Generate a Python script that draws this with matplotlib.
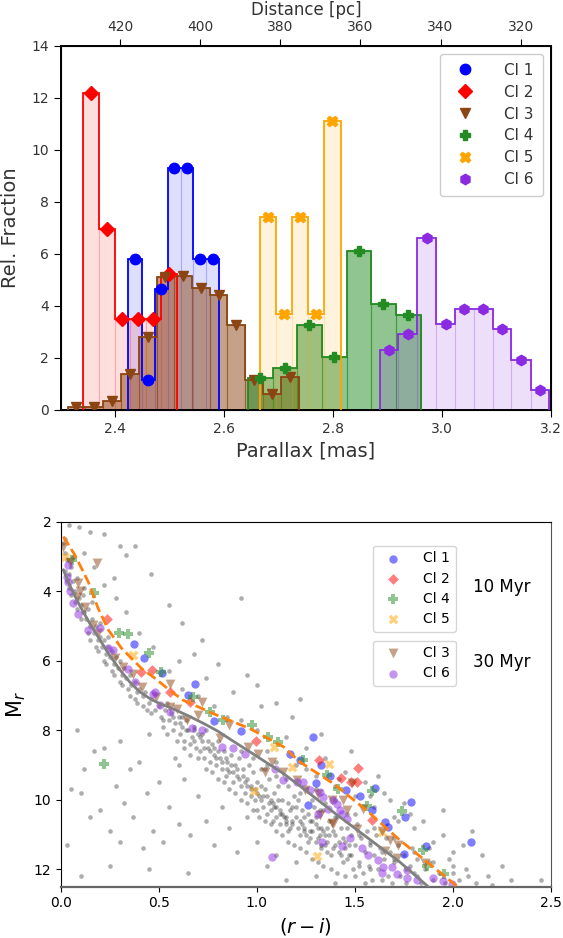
import numpy as np
import matplotlib.pyplot as plt

# ---------------- top panel: parallax histograms ----------------
cl_labels = ["Cl 1", "Cl 2", "Cl 3", "Cl 4", "Cl 5", "Cl 6"]
cl_colors = ["blue", "red", "saddlebrown", "forestgreen", "orange", "blueviolet"]
cl_markers = ["o", "D", "v", "P", "X", "h"]
fill_alpha = [0.13, 0.13, 0.5, 0.5, 0.13, 0.15]

cl1_edges = [2.424, 2.448, 2.472, 2.496, 2.520, 2.543, 2.567, 2.591]
cl1_frac = [5.8, 1.16, 4.65, 9.3, 9.3, 5.8, 5.8]
cl2_edges = [2.341, 2.370, 2.399, 2.427, 2.456, 2.484, 2.513]
cl2_frac = [12.2, 6.98, 3.49, 3.49, 3.49, 5.23]
cl3_edges = [2.312, 2.345, 2.377, 2.410, 2.443, 2.476, 2.508, 2.541, 2.574,
             2.606, 2.639, 2.672, 2.704, 2.737]
cl3_frac = [0.1, 0.1, 0.35, 1.38, 2.8, 5.13, 5.15, 4.68, 4.43, 3.28, 1.15, 0.6, 1.28]
cl4_edges = [2.643, 2.689, 2.734, 2.779, 2.825, 2.870, 2.915, 2.961]
cl4_frac = [1.22, 1.63, 3.26, 2.04, 6.12, 4.08, 3.67]
cl5_edges = [2.665, 2.695, 2.725, 2.754, 2.784, 2.814]
cl5_frac = [7.42, 3.71, 7.42, 3.71, 11.13]
cl6_edges = [2.886, 2.920, 2.955, 2.990, 3.024, 3.059, 3.094, 3.128, 3.163, 3.197]
cl6_frac = [2.32, 2.91, 6.63, 3.3, 3.88, 3.88, 3.12, 1.94, 0.76]

hist_edges = [cl1_edges, cl2_edges, cl3_edges, cl4_edges, cl5_edges, cl6_edges]
hist_frac = [cl1_frac, cl2_frac, cl3_frac, cl4_frac, cl5_frac, cl6_frac]
dist_ticks = [420, 400, 380, 360, 340, 320]

# ---------------- bottom panel: CMD ----------------
iso10_ri = [0.012, 0.071, 0.139, 0.19, 0.242, 0.31, 0.412, 0.48, 0.565, 0.624,
            0.795, 0.965, 1.135, 1.22, 1.39, 1.56, 1.73, 1.9, 2.025]
iso10_mr = [2.42, 2.95, 3.72, 4.49, 5.11, 5.64, 6.22, 6.5, 6.89, 7.13,
            7.56, 7.95, 8.47, 8.91, 9.53, 10.3, 11.16, 11.93, 12.5]
iso30_ri = [0.012, 0.055, 0.1, 0.15, 0.2, 0.25, 0.3, 0.35, 0.4, 0.45, 0.5, 0.565,
            0.65, 0.735, 0.8, 0.871, 0.99, 1.135, 1.22, 1.39, 1.56, 1.73, 1.875]
iso30_mr = [3.38, 3.95, 4.45, 4.95, 5.4, 5.85, 6.25, 6.6, 6.88, 7.07, 7.22, 7.36,
            7.58, 7.82, 8.02, 8.28, 8.71, 9.24, 9.6, 10.35, 11.07, 11.79, 12.5]

cl1_pts = [(0.374, 5.52), (0.425, 5.93), (0.514, 6.36), (0.684, 6.65), (0.647, 6.99),
           (0.781, 7.73), (0.919, 8.01), (1.285, 8.19), (1.169, 8.67), (1.22, 8.85),
           (1.302, 9.51), (1.373, 9.32), (1.262, 10.16), (1.455, 9.72), (1.526, 9.9),
           (1.603, 9.66), (1.787, 10.07), (1.756, 10.49), (1.654, 10.64), (1.671, 10.78),
           (1.863, 11.34), (1.752, 11.57), (2.093, 11.21), (1.33, 9.0), (1.586, 10.28)]
cl2_pts = [(0.236, 4.8), (0.408, 6.31), (0.463, 6.27), (0.556, 6.89), (0.658, 7.18),
           (0.995, 8.3), (1.319, 8.84), (1.429, 9.37), (1.515, 9.07), (1.509, 9.5),
           (1.48, 9.5), (1.586, 10.59)]
cl3_pts = [(0.012, 2.71), (0.046, 3.14), (0.182, 3.19), (0.088, 3.77), (0.097, 4.0),
           (0.08, 4.15), (0.123, 4.44), (0.165, 4.97), (0.19, 5.21), (0.276, 5.93),
           (0.318, 6.17), (0.369, 6.39), (0.412, 6.75), (0.556, 6.65), (0.718, 7.18),
           (0.859, 7.85), (0.556, 7.34), (0.591, 7.37), (0.642, 7.71), (0.701, 7.56),
           (0.485, 7.03), (0.812, 8.23), (0.956, 8.47), (1.007, 8.67), (1.076, 8.91),
           (1.041, 9.2), (1.135, 9.2), (1.203, 9.43), (1.246, 9.72), (1.313, 9.82),
           (1.382, 10.01), (1.458, 10.3), (1.382, 10.68), (1.484, 9.51), (1.441, 9.99),
           (1.543, 10.25), (1.509, 10.83), (1.637, 10.9), (1.679, 11.16), (1.722, 11.31),
           (1.654, 11.47), (1.713, 11.66), (1.858, 11.82), (1.39, 10.7), (1.322, 10.44)]
cl4_pts = [(0.055, 3.1), (0.17, 4.03), (0.298, 5.19), (0.344, 5.23), (0.451, 5.76),
           (0.51, 6.33), (0.675, 7.03), (0.761, 7.47), (0.825, 7.69), (0.973, 7.85),
           (1.058, 8.2), (1.109, 8.33), (1.237, 8.86), (1.356, 9.29), (1.415, 9.68),
           (1.586, 9.74), (1.739, 10.32), (1.56, 10.18), (1.846, 11.45), (1.867, 11.91),
           (1.955, 12.14), (0.221, 8.97)]
cl5_pts = [(0.02, 3.0), (0.366, 5.83), (0.987, 9.75), (1.087, 8.47), (1.178, 9.05),
           (1.37, 8.97), (1.637, 10.92), (1.305, 11.63)]
cl6_pts = [(0.037, 3.24), (0.029, 3.58), (0.037, 3.72), (0.046, 4.0), (0.063, 4.34),
           (0.085, 4.66), (0.139, 5.11), (0.199, 5.06), (0.242, 5.64), (0.267, 5.69),
           (0.344, 6.22), (0.378, 6.6), (0.48, 6.89), (0.471, 6.94), (0.505, 7.27),
           (0.556, 7.47), (0.67, 7.92), (0.718, 7.99), (0.82, 8.47), (0.88, 8.52),
           (0.939, 8.67), (1.092, 9.1), (1.135, 9.43), (1.203, 9.48), (1.271, 9.72),
           (1.339, 9.92), (1.407, 10.11), (1.313, 10.4), (1.433, 10.4), (1.237, 9.48),
           (1.322, 9.77), (1.39, 10.01), (1.365, 10.25), (1.424, 10.3), (1.458, 10.54),
           (1.331, 11.21), (1.433, 11.34), (1.475, 11.11), (1.535, 11.4), (1.569, 11.6),
           (1.62, 11.74), (1.645, 11.93), (1.688, 11.93), (1.637, 12.12), (1.717, 12.14),
           (1.768, 12.01), (1.768, 12.24), (1.816, 12.3), (1.901, 12.25), (1.952, 12.34),
           (1.994, 12.41), (1.075, 11.64)]

field_pts = [
    # tight upper ridge
    (0.01, 2.6), (0.02, 2.9), (0.03, 3.1), (0.02, 3.4), (0.04, 3.5), (0.05, 3.3), (0.06, 3.7),
    (0.04, 3.9), (0.07, 4.0), (0.08, 3.6), (0.09, 4.2), (0.1, 4.4), (0.08, 4.5), (0.11, 4.1),
    (0.12, 4.6), (0.13, 4.8), (0.14, 4.5), (0.15, 5.0), (0.16, 4.8), (0.17, 5.2), (0.18, 5.0),
    (0.19, 5.4), (0.2, 5.3), (0.21, 5.6), (0.22, 5.4), (0.23, 5.8), (0.24, 5.6), (0.25, 5.9),
    (0.26, 5.7), (0.27, 6.1), (0.28, 5.9), (0.29, 6.2), (0.3, 6.0), (0.31, 6.4), (0.32, 6.2),
    (0.33, 6.5), (0.35, 6.4), (0.36, 6.7), (0.38, 6.6), (0.39, 6.9), (0.4, 6.8), (0.42, 7.0),
    (0.43, 6.9), (0.45, 7.2), (0.46, 7.1), (0.48, 7.4), (0.5, 7.3), (0.02, 2.5), (0.06, 3.0),
    (0.12, 3.9), (0.16, 4.3), (0.2, 4.9), (0.24, 5.3), (0.03, 3.7), (0.05, 4.1), (0.1, 4.8),
    (0.14, 5.2), (0.18, 5.6), (0.22, 6.0), (0.26, 6.3), (0.3, 6.6), (0.34, 6.8), (0.38, 7.1),
    (0.42, 7.3), (0.46, 7.5), (0.07, 4.3), (0.11, 4.6), (0.15, 5.4), (0.19, 5.7), (0.23, 6.1),
    (0.27, 6.4), (0.31, 6.7), (0.35, 7.0), (0.39, 7.2), (0.44, 7.4),
    # lower main band
    (0.51, 7.6), (0.53, 7.4), (0.52, 7.9), (0.55, 7.7), (0.54, 7.2), (0.57, 8.0), (0.56, 7.5),
    (0.58, 7.8), (0.6, 7.6), (0.61, 8.1), (0.62, 7.9), (0.63, 8.3), (0.64, 7.7), (0.65, 8.0),
    (0.66, 8.4), (0.67, 8.2), (0.68, 7.9), (0.69, 8.5), (0.7, 8.1), (0.71, 8.6), (0.72, 8.3),
    (0.73, 8.8), (0.74, 8.0), (0.75, 8.5), (0.76, 8.9), (0.77, 8.4), (0.78, 8.7), (0.79, 9.0),
    (0.8, 8.3), (0.81, 8.8), (0.82, 9.1), (0.83, 8.6), (0.84, 9.3), (0.85, 8.9), (0.86, 9.2),
    (0.87, 8.7), (0.88, 9.5), (0.89, 9.0), (0.9, 9.3), (0.91, 8.8), (0.92, 9.6), (0.93, 9.1),
    (0.94, 9.8), (0.95, 9.4), (0.96, 9.0), (0.97, 9.7), (0.98, 9.2), (0.99, 10.0), (1.0, 9.5),
    (1.01, 9.9), (1.02, 9.1), (1.03, 10.2), (1.04, 9.7), (1.05, 10.4), (1.06, 9.4), (1.07, 10.0),
    (1.08, 10.6), (1.09, 9.8), (1.0, 10.3), (1.05, 9.0), (1.1, 10.2), (1.11, 9.6), (1.12, 10.7),
    (1.13, 10.0), (1.14, 10.5), (1.15, 9.4), (1.16, 10.9), (1.17, 10.3), (1.18, 10.7), (1.19, 9.9),
    (1.12, 10.4), (1.16, 10.1), (1.2, 10.5), (1.21, 10.0), (1.22, 11.0), (1.23, 10.3), (1.24, 10.8),
    (1.25, 9.7), (1.26, 11.2), (1.27, 10.6), (1.28, 10.9), (1.29, 10.2), (1.22, 10.6), (1.26, 10.4),
    (1.3, 10.7), (1.31, 11.1), (1.32, 10.3), (1.33, 11.4), (1.34, 10.9), (1.35, 10.1), (1.36, 11.2),
    (1.37, 10.6), (1.38, 11.6), (1.39, 10.9), (1.31, 10.8), (1.35, 11.0), (1.4, 11.0), (1.41, 10.5),
    (1.42, 11.5), (1.43, 10.8), (1.44, 11.8), (1.45, 11.2), (1.46, 10.4), (1.47, 11.6), (1.48, 11.0),
    (1.49, 12.0), (1.5, 11.3), (1.51, 10.7), (1.52, 11.8), (1.53, 11.1), (1.54, 12.1), (1.55, 11.5),
    (1.56, 10.9), (1.57, 11.9), (1.58, 11.3), (1.59, 12.3), (1.6, 11.6), (1.61, 11.0), (1.62, 12.0),
    (1.63, 11.4), (1.64, 12.3), (1.65, 11.7), (1.66, 11.1), (1.67, 12.2), (1.68, 11.5), (1.69, 12.4),
    (1.7, 11.8), (1.72, 11.3), (1.73, 12.2), (1.75, 11.6), (1.76, 12.4), (1.78, 11.9), (1.79, 11.4),
    (1.8, 12.1), (1.82, 11.7), (1.84, 12.4), (1.86, 12.0), (1.88, 11.8), (1.9, 12.3), (1.93, 12.1),
    (1.96, 12.4), (2.0, 11.9), (2.03, 12.3), (2.07, 12.0), (2.12, 12.4), (2.18, 12.2),
    (0.97, 9.9), (1.02, 10.0), (1.07, 10.3), (1.1, 10.5), (1.15, 10.6), (1.18, 10.2), (1.23, 10.7),
    (1.27, 10.9), (1.3, 10.5), (1.33, 10.8), (1.37, 11.0), (1.4, 11.3), (1.44, 11.1), (1.47, 11.3),
    (0.62, 7.6), (0.68, 8.0), (0.72, 8.1), (0.78, 8.5), (0.84, 8.8), (0.9, 9.1), (0.95, 9.6),
    (0.52, 7.7), (0.54, 8.1), (0.57, 7.6), (0.59, 8.3), (0.61, 7.8), (0.63, 8.5), (0.64, 8.0),
    (0.66, 8.7), (0.68, 8.3), (0.7, 8.8), (0.71, 8.2), (0.73, 8.5), (0.74, 9.1), (0.76, 8.6),
    (0.77, 9.2), (0.79, 8.8), (0.8, 9.4), (0.82, 8.9), (0.83, 9.5), (0.85, 9.1), (0.86, 9.7),
    (0.88, 9.2), (0.89, 9.8), (0.91, 9.4), (0.92, 10.0), (0.94, 9.5), (0.95, 10.1), (0.97, 9.6),
    (0.98, 10.3), (1.0, 9.8), (1.01, 10.5), (1.03, 9.9), (1.04, 10.6), (1.06, 10.1), (1.07, 10.7),
    (1.09, 10.2), (1.1, 10.9), (1.12, 10.3), (1.13, 11.0), (1.15, 10.5), (1.16, 11.2), (1.18, 10.6),
    (1.19, 11.3), (1.21, 10.8), (1.22, 11.4), (1.24, 10.9), (1.25, 11.5), (1.27, 11.1), (1.28, 11.7),
    (1.3, 11.2), (1.31, 11.8), (1.33, 11.3), (1.34, 11.9), (1.36, 11.5), (1.38, 12.0), (1.39, 11.4),
    (1.41, 12.1), (1.43, 11.6), (1.45, 12.2), (1.46, 11.7), (1.5, 12.2), (1.52, 11.9), (1.55, 12.4),
    (1.58, 12.0), (1.05, 9.9), (1.08, 10.1), (1.13, 10.4), (1.17, 10.8), (1.2, 10.2), (1.24, 10.5),
    (1.28, 10.6), (1.32, 11.0), (1.36, 10.8), (1.42, 11.2), (1.45, 11.4), (1.48, 11.6), (1.02, 9.6),
    (0.99, 9.7), (1.11, 10.0), (1.25, 11.0), (1.35, 11.3), (1.15, 10.7), (0.93, 9.3), (0.87, 9.0),
    (0.8, 8.6), (0.75, 8.3),
    # between and around the cluster sequences
    (0.92, 8.6), (0.98, 8.8), (1.04, 9.1), (1.1, 9.3), (1.16, 9.6), (1.22, 9.8), (1.28, 10.0),
    (1.34, 10.3), (1.4, 10.5), (1.46, 10.8), (1.52, 11.0), (1.58, 11.2), (1.64, 11.5), (1.7, 11.7),
    (1.76, 12.0), (1.82, 12.2), (1.3, 9.7), (1.4, 10.0), (1.5, 10.4), (1.6, 10.8), (1.7, 11.1),
    (1.8, 11.5), (1.9, 11.8), (2.0, 12.1), (1.25, 9.1), (1.42, 9.4), (1.58, 9.9), (1.72, 10.6),
    (1.88, 11.4), (1.98, 11.7), (2.08, 12.2), (1.78, 10.4), (1.68, 10.0),
    (0.55, 6.3), (0.62, 6.8), (0.7, 7.0), (0.78, 7.3), (0.85, 7.6), (0.92, 7.7), (1.0, 8.0),
    (1.05, 8.6), (1.1, 8.9), (1.15, 8.2), (1.2, 9.0), (1.25, 8.5), (1.3, 9.3), (1.35, 8.8),
    (1.4, 9.6), (1.45, 9.2), (1.5, 9.9), (1.55, 9.5), (1.6, 10.2), (1.65, 9.8), (1.7, 10.5),
    (1.75, 10.1), (1.8, 10.8), (1.85, 10.6), (1.9, 11.2), (1.95, 11.0), (2.0, 11.5), (2.05, 11.3),
    (1.62, 9.3), (1.48, 8.6), (1.33, 8.1), (1.18, 7.6), (1.02, 7.3), (0.88, 6.9), (0.74, 6.5),
    (0.6, 6.0), (0.47, 5.6), (0.4, 5.2), (0.33, 4.6), (0.28, 4.2), (0.22, 3.8), (0.17, 3.3),
    (0.12, 2.9),
    # sparse outliers
    (0.04, 2.1), (0.09, 2.15), (0.15, 2.3), (0.22, 2.35), (0.3, 2.7), (0.38, 2.7), (0.33, 2.95),
    (0.46, 3.5), (0.27, 3.6), (0.55, 4.4), (0.62, 4.9), (0.72, 5.4), (0.92, 4.2), (0.8, 6.1),
    (1.0, 6.7), (1.22, 7.1), (0.95, 6.4), (1.1, 7.2), (0.68, 5.8),
    (0.03, 11.3), (0.05, 9.7), (0.1, 9.8), (0.12, 9.1), (0.15, 10.5), (0.17, 8.6), (0.2, 10.3),
    (0.25, 10.9), (0.28, 9.6), (0.3, 11.2), (0.32, 10.1), (0.35, 9.1), (0.37, 10.5), (0.4, 8.9),
    (0.42, 11.4), (0.44, 9.8), (0.47, 10.9), (0.5, 9.5), (0.52, 11.2), (0.55, 10.2), (0.58, 8.8),
    (0.6, 10.7), (0.63, 9.4), (0.66, 11.0), (0.7, 9.9), (0.74, 10.6), (0.78, 11.3), (0.82, 10.2),
    (0.86, 10.8), (0.9, 11.5), (0.95, 10.5), (0.1, 12.2), (0.25, 11.9), (0.45, 12.0), (0.65, 12.1),
    (0.22, 8.5), (0.08, 8.0), (0.3, 8.3), (0.45, 8.1), (0.6, 9.0),
    (1.0, 11.2), (1.1, 11.6), (1.2, 11.8), (1.3, 12.2), (1.15, 12.3), (1.4, 12.4), (1.05, 11.9),
    (2.15, 11.6), (2.25, 11.9), (2.3, 12.3), (2.45, 12.3), (2.2, 12.45), (2.1, 10.9), (1.95, 10.3),
]

cmd_groups = [
    ("Cl 1", cl1_pts, "blue", "o"),
    ("Cl 2", cl2_pts, "red", "D"),
    ("Cl 4", cl4_pts, "forestgreen", "P"),
    ("Cl 5", cl5_pts, "orange", "X"),
    ("Cl 3", cl3_pts, "saddlebrown", "v"),
    ("Cl 6", cl6_pts, "blueviolet", "o"),
]

fig = plt.figure(figsize=(5.63, 9.38), dpi=100)
txt = "#333333"

# ---------- top panel ----------
ax = fig.add_axes([0.1083, 0.5629, 0.8698, 0.3881])
handles = []
for i in range(6):
    e = np.array(hist_edges[i])
    h = np.array(hist_frac[i])
    c = cl_colors[i]
    ax.bar(e[:-1], h, width=np.diff(e), align="edge", color=c, alpha=fill_alpha[i],
           edgecolor=c, linewidth=0.8, zorder=1 + i * 0.1)
for i in range(6):
    e = np.array(hist_edges[i])
    h = np.array(hist_frac[i])
    c = cl_colors[i]
    ax.stairs(h, e, color=c, lw=1.3, baseline=0, zorder=3)
    centers = 0.5 * (e[:-1] + e[1:])
    ms = 7 if cl_markers[i] == "D" else 7.5
    ln, = ax.plot(centers, h, ls="none", marker=cl_markers[i], color=c, ms=ms,
                  zorder=4, label=cl_labels[i])
    handles.append(ln)

ax.set_xlim(2.3, 3.2)
ax.set_ylim(0, 14)
ax.set_xticks([2.4, 2.6, 2.8, 3.0, 3.2])
ax.set_xticklabels(["2.4", "2.6", "2.8", "3.0", "3.2"])
ax.set_yticks(range(0, 15, 2))
ax.tick_params(direction="out", length=5, labelsize=10, labelcolor=txt)
ax.set_xlabel("Parallax [mas]", fontsize=14, color=txt, labelpad=4)
ax.set_ylabel("Rel. Fraction", fontsize=14, color=txt, labelpad=8)
for s in ax.spines.values():
    s.set_linewidth(1.4)
ax.legend(handles=handles, loc="upper right", fontsize=11, handletextpad=1.6,
          labelspacing=0.45, borderpad=0.6, framealpha=1, labelcolor=txt)

ax2 = ax.twiny()
ax2.set_xlim(1000 / 2.3, 1000 / 3.2)
ax2.set_xticks(dist_ticks)
ax2.tick_params(direction="out", length=5, labelsize=10, labelcolor=txt)
ax2.set_xlabel("Distance [pc]", fontsize=12, color=txt, labelpad=4)

# ---------- bottom panel ----------
bx = fig.add_axes([0.1083, 0.0547, 0.8698, 0.3888])
fx = [p[0] for p in field_pts]
fy = [p[1] for p in field_pts]
bx.scatter(fx, fy, s=11, color="k", alpha=0.32, lw=0, zorder=1)

sc = {}
for name, pts, c, m in cmd_groups:
    xs = [p[0] for p in pts]
    ys = [p[1] for p in pts]
    size = {"o": 36, "D": 30, "v": 50, "P": 60, "X": 50}[m]
    sc[name] = bx.scatter(xs, ys, s=size, color=c, marker=m, alpha=0.5, lw=0,
                          zorder=2, label=name)

bx.plot(iso10_ri, iso10_mr, color="#ff7f0e", ls="--", lw=2, zorder=3)
bx.plot(iso30_ri, iso30_mr, color="gray", ls="-", lw=2, zorder=3)

bx.set_xlim(0, 2.5)
bx.set_ylim(12.5, 2)
bx.set_xticks([0.0, 0.5, 1.0, 1.5, 2.0, 2.5])
bx.set_yticks([2, 4, 6, 8, 10, 12])
bx.tick_params(labelsize=10)
bx.set_xlabel("$(r-i)$", fontsize=14)
bx.set_ylabel("M$_r$", fontsize=15)
bx.spines["bottom"].set_color("#666666")
bx.spines["bottom"].set_linewidth(1.6)
bx.spines["right"].set_color("#555555")

leg1 = bx.legend(handles=[sc["Cl 1"], sc["Cl 2"], sc["Cl 4"], sc["Cl 5"]],
                 loc="upper left", bbox_to_anchor=(0.638, 0.935), fontsize=10,
                 handletextpad=1.2, borderaxespad=0, labelspacing=0.45)
bx.add_artist(leg1)
bx.legend(handles=[sc["Cl 3"], sc["Cl 6"]], loc="upper left",
          bbox_to_anchor=(0.638, 0.675), fontsize=10, handletextpad=1.2,
          borderaxespad=0, labelspacing=0.45)
bx.text(0.9, 0.822, "10 Myr", transform=bx.transAxes, fontsize=12,
        ha="center", va="center")
bx.text(0.9, 0.616, "30 Myr", transform=bx.transAxes, fontsize=12,
        ha="center", va="center")

fig.savefig("out.png", dpi=100)
